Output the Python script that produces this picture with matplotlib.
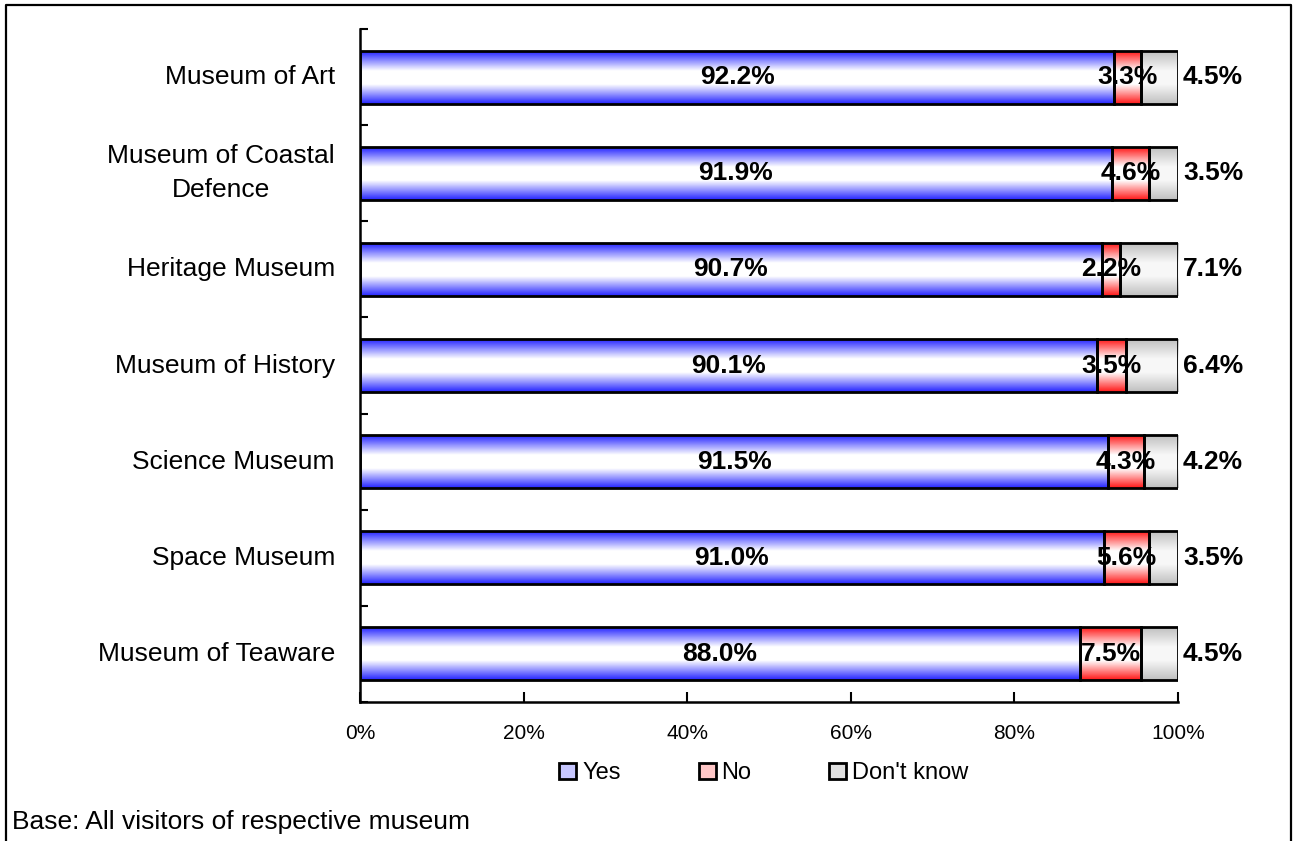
import numpy as np
import matplotlib
matplotlib.use("Agg")
import matplotlib.pyplot as plt
from matplotlib.patches import Rectangle
from matplotlib.lines import Line2D

plt.rcParams['font.family'] = ['Liberation Sans', 'DejaVu Sans']

museums = ["Museum of Art", "Museum of Coastal\nDefence", "Heritage Museum",
           "Museum of History", "Science Museum", "Space Museum", "Museum of Teaware"]
yes = [92.2, 91.9, 90.7, 90.1, 91.5, 91.0, 88.0]
no = [3.3, 4.6, 2.2, 3.5, 4.3, 5.6, 7.5]
dont_know = [4.5, 3.5, 7.1, 6.4, 4.2, 3.5, 4.5]
series_names = ["Yes", "No", "Don't know"]
edge_cols = [(0.15, 0.15, 1.0), (1.0, 0.1, 0.1), (0.75, 0.75, 0.75)]
mid_cols = [(1.0, 1.0, 1.0), (1.0, 1.0, 1.0), (0.97, 0.97, 0.97)]
legend_cols = [(0.78, 0.78, 1.0), (1.0, 0.78, 0.78), (0.88, 0.88, 0.88)]

def gradient_img(c_edge, c_mid, n=64):
    t = np.linspace(0, 1, n)
    f = np.clip((1 - np.abs(2 * t - 1)) * 1.35, 0, 1)[:, None]
    img = np.array(c_edge)[None, :] * (1 - f) + np.array(c_mid)[None, :] * f
    return img[:, None, :]

fig = plt.figure(figsize=(12.94, 8.41), dpi=100)
ax = fig.add_axes([360 / 1294, 1 - 702 / 841, 818 / 1294, 673 / 841])

data = np.array([yes, no, dont_know])
tot = data.sum(axis=0)
frac = data / tot * 100
ypos = np.arange(len(museums))
bh = 0.55
left = np.zeros(len(museums))
for k in range(3):
    bars = ax.barh(ypos, frac[k], left=left, height=bh, facecolor='none',
                   edgecolor='black', linewidth=2, zorder=3)
    img = gradient_img(edge_cols[k], mid_cols[k])
    for b in bars:
        x0, y0 = b.get_x(), b.get_y()
        im = ax.imshow(img, extent=[x0, x0 + b.get_width(), y0 + bh, y0],
                       aspect='auto', interpolation='bilinear', zorder=2)
        im.set_clip_path(b)
    left += frac[k]

for i in ypos:
    ax.text(frac[0][i] / 2, i, f"{yes[i]:.1f}%", ha='center', va='center',
            fontsize=19, fontweight='bold', zorder=5)
    ax.text(frac[0][i] + frac[1][i] / 2, i, f"{no[i]:.1f}%", ha='center', va='center',
            fontsize=19, fontweight='bold', zorder=5)
    ax.text(100.6, i, f"{dont_know[i]:.1f}%", ha='left', va='center',
            fontsize=19, fontweight='bold', zorder=5, clip_on=False)

ax.set_xlim(0, 100)
ax.set_ylim(len(museums) - 0.5, -0.5)
ax.set_xticks(np.arange(0, 101, 20))
ax.set_xticklabels([f"{v}%" for v in range(0, 101, 20)], fontsize=15)
ax.tick_params(axis='x', direction='in', length=7, width=1.5, pad=16)
ax.set_yticks(np.arange(-0.5, len(museums), 1))
ax.set_yticklabels([])
ax.set_yticks(ypos, minor=True)
ax.set_yticklabels(museums, minor=True, fontsize=19)
for lab in ax.get_yticklabels(minor=True):
    lab.set_multialignment('center')
    lab.set_linespacing(1.5)
    lab.set_verticalalignment('center')
ax.tick_params(axis='y', which='major', direction='in', length=6, width=1.5)
ax.tick_params(axis='y', which='minor', length=0, pad=18)
for s in ['top', 'right']:
    ax.spines[s].set_visible(False)
for s in ['left', 'bottom']:
    ax.spines[s].set_linewidth(1.8)

handles = [Rectangle((0, 0), 1, 1, facecolor=legend_cols[k],
                     edgecolor='black', linewidth=2) for k in range(3)]
fig.legend(handles, series_names, loc='center', bbox_to_anchor=(764 / 1294, 1 - 773 / 841),
           ncol=3, frameon=False, fontsize=17, handlelength=0.72, handleheight=0.64,
           handletextpad=0.25, columnspacing=3.3, borderpad=0, borderaxespad=0)

fig.text(12 / 1294, 1 - 822 / 841, "Base: All visitors of respective museum",
         fontsize=19, ha='left', va='center')

bx0, bx1, by1 = 6 / 1294, 1291 / 1294, 1 - 5 / 841
fig.add_artist(Line2D([bx0, bx0, bx1, bx1], [-0.1, by1, by1, -0.1],
                      transform=fig.transFigure, color='black', linewidth=1.6))

fig.savefig("out.png", dpi=100, facecolor='white')
